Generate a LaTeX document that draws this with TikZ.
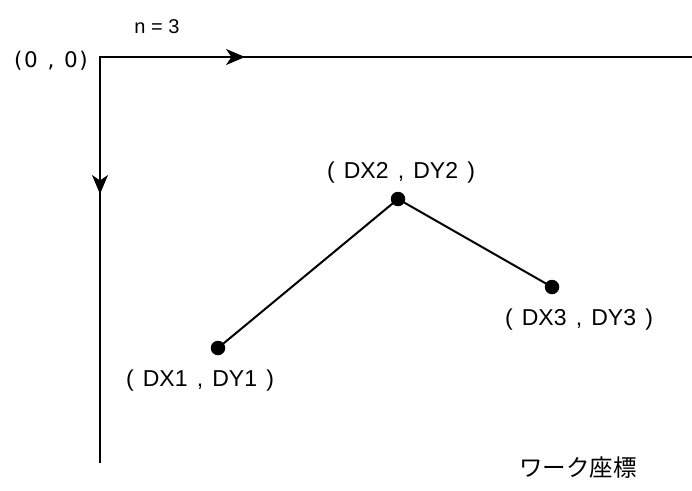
\documentclass[tikz,border=0pt]{standalone}
\usepackage{fontspec}
\setmainfont{Liberation Sans}
\newfontfamily\djv{DejaVu Sans}
\newfontfamily\cjk{Noto Sans CJK JP}
\usetikzlibrary{arrows.meta}
\newcommand{\gp}{\hspace{0.4em}}
\begin{document}
\begin{tikzpicture}[x=1pt,y=-1pt,
  axis/.style={line width=1.8pt},
  tipline/.style={line width=1.8pt,-{Stealth[length=19pt,width=16pt,inset=5.5pt]}},
  seg/.style={line width=2pt},
  dot/.style={circle,fill=black,inner sep=0pt,minimum size=14.5pt},
  lbl/.style={font=\fontsize{23}{27}\selectfont,inner sep=0pt,anchor=base}]
\useasboundingbox (0,0) rectangle (692,490);
\coordinate (O) at (100,57);
\coordinate (HA) at (245,57);
\coordinate (HE) at (692,57);
\coordinate (VA) at (100,194);
\coordinate (VE) at (100,463);
\draw[axis] (HE) -- (O) -- (VE);
\draw[tipline] (O) -- (HA);
\draw[tipline] (O) -- (VA);
\node[dot] (p1) at (218,348) {};
\node[dot] (p2) at (398,199) {};
\node[dot] (p3) at (552,287) {};
\draw[seg] (p1.center) -- (p2.center) -- (p3.center);
\node[lbl,font=\djv\fontsize{21.5}{25}\selectfont] (l0) at (51,67) {(\hspace{0.08em}0\hspace{0.45em},\hspace{0.45em}0\hspace{0.08em})};
\node[lbl,font=\fontsize{20}{24}\selectfont] (ln) at (157,33.3) {n = 3};
\node[lbl] (l2) at (401,178.7) {(\gp DX2\gp,\gp DY2\gp)};
\node[lbl] (l3) at (579,325) {(\gp DX3\gp,\gp DY3\gp)};
\node[lbl] (l1) at (200,386.7) {(\gp DX1\gp,\gp DY1\gp)};
\node[font=\cjk\fontsize{23.5}{27}\selectfont,inner sep=0pt] (lw) at (578,468) {ワーク座標};
\end{tikzpicture}
\end{document}
